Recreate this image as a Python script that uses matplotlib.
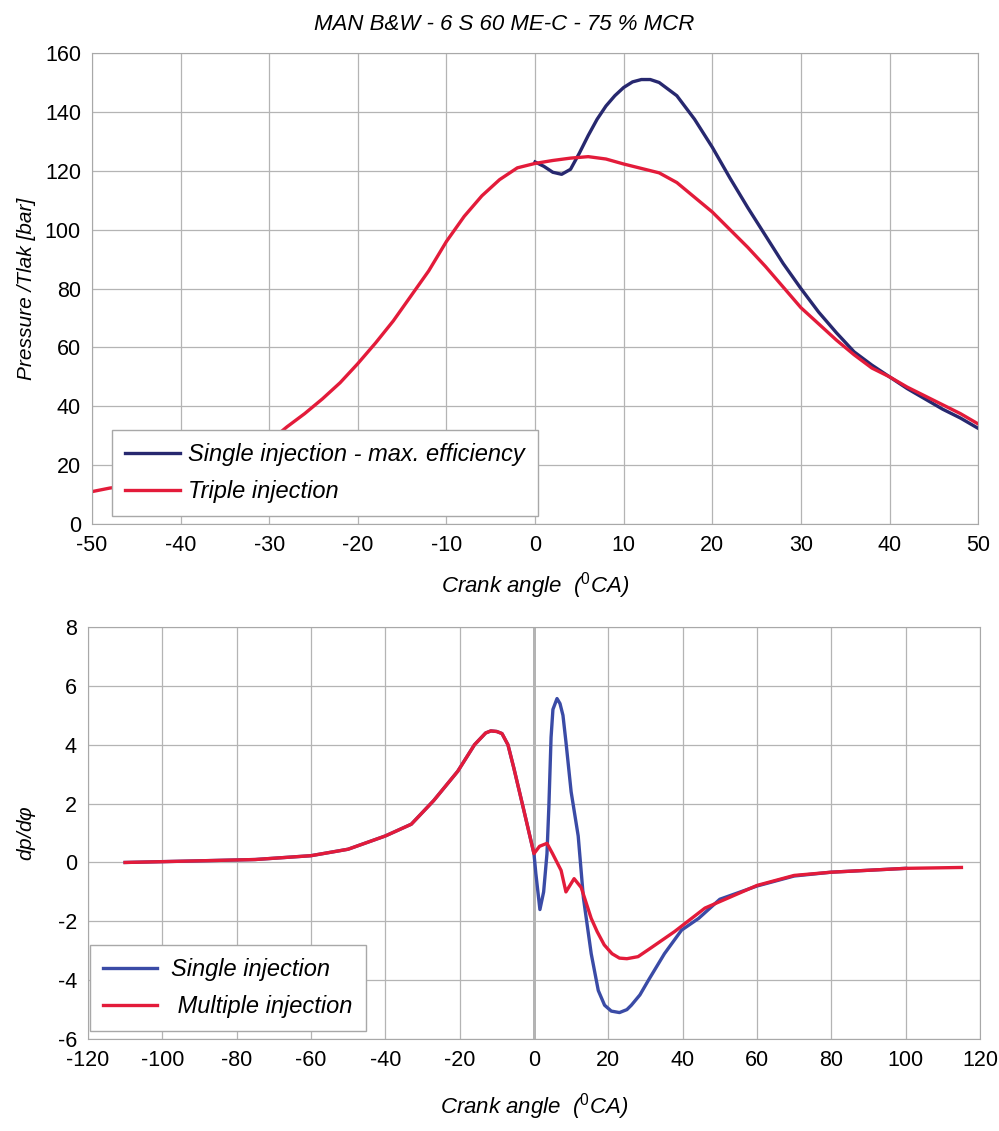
import numpy as np
import matplotlib.pyplot as plt

plt.rcParams['font.family'] = ['Liberation Sans', 'DejaVu Sans']
plt.rcParams['mathtext.fontset'] = 'custom'
plt.rcParams['mathtext.it'] = 'Liberation Sans:italic'
plt.rcParams['mathtext.rm'] = 'Liberation Sans'
plt.rcParams['mathtext.default'] = 'it'
plt.rcParams['axes.unicode_minus'] = False

# top chart: cylinder pressure (bar) vs crank angle
angle_triple = [-50, -48, -46, -44, -42, -40, -38, -36, -34, -32, -30, -28, -26, -24, -22,
                -20, -18, -16, -14, -12, -10, -8, -6, -4, -2, 0, 2, 4, 6, 8, 10, 12, 14,
                16, 18, 20, 22, 24, 26, 28, 30, 32, 34, 36, 38, 40, 42, 44, 46, 48, 50]
p_triple = [11, 12.2, 13, 14, 15.5, 17, 18.5, 20.5, 22.5, 25, 28, 33, 37.5, 42.5, 48,
            54.5, 61.5, 69, 77.5, 86, 96, 104.5, 111.5, 117, 121, 122.5, 123.5, 124.3,
            124.8, 124, 122.3, 120.8, 119.3, 116, 111, 106, 100, 94, 87.5, 80.5, 73.5, 68,
            62.5, 57.5, 53, 50, 46.5, 43.5, 40.5, 37.5, 34]

angle_single = [0, 1, 2, 3, 4, 5, 6, 7, 8, 9, 10, 11, 12, 13, 14, 16, 18, 20, 22, 24, 26,
                28, 30, 32, 34, 36, 38, 40, 42, 44, 46, 48, 50]
p_single = [123, 121.5, 119.5, 118.8, 120.5, 126, 132, 137.5, 142, 145.5, 148.3, 150.2,
            151, 151, 150, 145.5, 137.5, 128, 117.5, 107.5, 98, 88.5, 80, 72, 65, 58.5,
            54, 50, 46, 42.5, 39, 36, 32.5]

# bottom chart: dp/dphi vs crank angle
angle_multi = [-110, -92, -75, -60, -50, -40, -33, -27, -20.5, -16, -13, -11.6, -10, -8.6,
               -7, -5.4, -2.7, 0, 1.5, 3.5, 5, 7.3, 8.6, 10.8, 12.7, 15.4, 17, 18.9, 21,
               23, 25, 28, 31.5, 37.8, 46, 60, 70, 80, 100, 115]
dp_multi = [0, 0.05, 0.1, 0.23, 0.45, 0.9, 1.3, 2.1, 3.1, 4.0, 4.4, 4.47, 4.45, 4.38,
            4.0, 3.2, 1.76, 0.3, 0.55, 0.65, 0.3, -0.27, -1.0, -0.55, -0.85, -1.9, -2.35,
            -2.8, -3.1, -3.25, -3.27, -3.2, -2.9, -2.35, -1.55, -0.78, -0.44, -0.33, -0.2,
            -0.17]

angle_single_dp = [-110, -92, -75, -60, -50, -40, -33, -27, -20.5, -16, -13, -11.6, -10,
                   -8.6, -7, -5.4, -2.7, 0, 0.5, 1.6, 2.6, 3.5, 4.0, 4.6, 5.1, 6.2, 7.0,
                   7.8, 8.6, 10, 11.9, 13.3, 15.4, 17.3, 19, 20.8, 23, 25, 26.2, 28.5, 30.8,
                   35.1, 39.7, 44.3, 50, 60, 70, 80, 100]
dp_single = [0, 0.05, 0.1, 0.23, 0.45, 0.9, 1.3, 2.1, 3.1, 4.0, 4.4, 4.47, 4.45, 4.38,
             4.0, 3.2, 1.76, 0.3, -0.37, -1.6, -1.0, 0.3, 1.87, 4.25, 5.2, 5.57, 5.4,
             5.0, 4.1, 2.4, 0.9, -1.2, -3.1, -4.35, -4.85, -5.05, -5.1, -5.0, -4.85,
             -4.5, -4.0, -3.1, -2.3, -1.9, -1.25, -0.8, -0.46, -0.33, -0.2]

navy = '#27286f'
red = '#e31b3a'
blue = '#3a4ba6'
grid_c = '#b4b4b4'

fig = plt.figure(figsize=(9.99, 11.31), dpi=100)
ax1 = fig.add_axes([0.0921, 0.5367, 0.887, 0.4164])
ax2 = fig.add_axes([0.088, 0.0813, 0.893, 0.3643])

ax1.plot(angle_single, p_single, color=navy, lw=2.4, label='Single injection - max. efficiency')
ax1.plot(angle_triple, p_triple, color=red, lw=2.4, label='Triple injection')
ax1.set_xlim(-50, 50)
ax1.set_ylim(0, 160)
ax1.set_xticks(np.arange(-50, 51, 10))
ax1.set_yticks(np.arange(0, 161, 20))
ax1.set_ylabel('Pressure /Tlak [bar]', fontsize=15, style='italic', labelpad=6)
ax1.set_xlabel(r'Crank angle  ($^{0}CA$)', fontsize=16, style='italic', labelpad=10)
leg1 = ax1.legend(loc='upper left', bbox_to_anchor=(0.023, 0.2),
                  prop={'style': 'italic', 'size': 17},
                  frameon=True, fancybox=False, handlelength=2.3, handletextpad=0.35,
                  borderpad=0.55, labelspacing=0.6, borderaxespad=0)
fig.text(0.505, 0.978, 'MAN B&W - 6 S 60 ME-C - 75 % MCR', ha='center', va='center',
         fontsize=16, style='italic')

ax2.plot(angle_single_dp, dp_single, color=blue, lw=2.4, label='Single injection')
ax2.plot(angle_multi, dp_multi, color=red, lw=2.4, label=' Multiple injection')
ax2.axvline(0, color='#9a9a9a', lw=1.8, zorder=0.5)
ax2.set_xlim(-120, 120)
ax2.set_ylim(-6, 8)
ax2.set_xticks(np.arange(-120, 121, 20))
ax2.set_yticks(np.arange(-6, 9, 2))
ax2.set_ylabel(r'dp/d$\varphi$', fontsize=15, style='italic', labelpad=14)
ax2.set_xlabel(r'Crank angle  ($^{0}CA$)', fontsize=16, style='italic', labelpad=14)
leg2 = ax2.legend(loc='upper left', bbox_to_anchor=(0.002, 0.228),
                  prop={'style': 'italic', 'size': 17},
                  frameon=True, fancybox=False, handlelength=2.3, handletextpad=0.6,
                  borderpad=0.55, labelspacing=0.6, borderaxespad=0)

for ax in (ax1, ax2):
    ax.grid(True, color=grid_c, lw=0.9)
    ax.set_axisbelow(True)
    for s in ax.spines.values():
        s.set_color('#a8a8a8')
    ax.tick_params(labelsize=15.5, length=0, pad=8)
for leg in (leg1, leg2):
    leg.get_frame().set_edgecolor('#a8a8a8')
    leg.get_frame().set_linewidth(1.0)
    leg.get_frame().set_alpha(1)

fig.savefig('out.png', dpi=100)
